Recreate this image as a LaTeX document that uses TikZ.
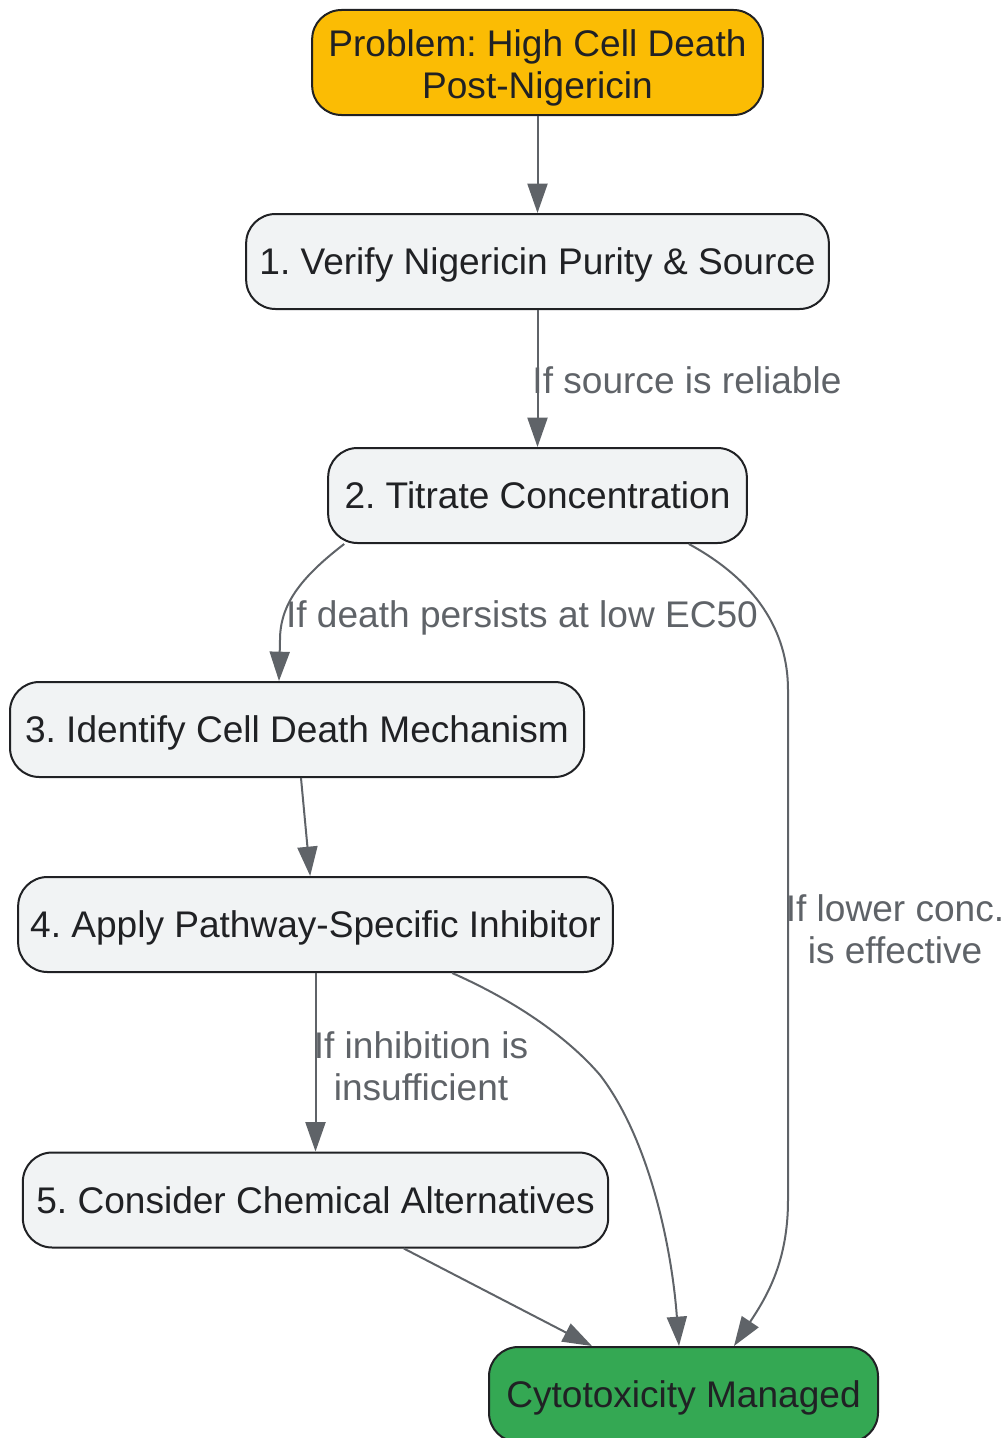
\documentclass[tikz,border=0pt]{standalone}
\usepackage{fontspec}
\setmainfont{Liberation Sans}
\usepackage{xcolor}
\usepackage{tikz}
\usetikzlibrary{calc, positioning, arrows.meta}
\frenchspacing

\definecolor{probfill}{HTML}{FBBC04}
\definecolor{stepfill}{HTML}{F1F3F4}
\definecolor{donefill}{HTML}{34A853}
\definecolor{edgegray}{HTML}{5F6368}
\definecolor{inkdark}{HTML}{202124}

\begin{document}
\begin{tikzpicture}[x=0.75pt,y=-0.75pt,
                    main node/.style={rectangle,rounded corners=22pt,draw=inkdark,line width=1.5pt,
                        text=inkdark,align=center,font=\fontsize{27.8}{31.5}\selectfont,
                        text height=22pt,text depth=2pt,minimum height=71.25pt,inner sep=0pt},
                    flow/.style={draw=edgegray,line width=1.5pt,-{Triangle[length=22pt,width=15pt]}},
                    edge label/.style={text=edgegray,align=center,text height=22pt,text depth=2pt,
                        font=\fontsize{27.8}{31.5}\selectfont},
                    two lines/.style={text height=54.5pt,text depth=0pt}]
\useasboundingbox (0,0) rectangle (1005,1438);

\node[main node,two lines,fill=probfill,minimum width=338pt,minimum height=78.75pt] (Problem) at (537.5,62.5) {Problem: High Cell Death\\Post-Nigericin};
\node[main node,fill=stepfill,minimum width=437pt] (Verify) at (537.5,261.5) {1. Verify Nigericin Purity \& Source};
\node[main node,fill=stepfill,minimum width=314pt] (Titrate) at (537.5,495.5) {2. Titrate Concentration};
\node[main node,fill=stepfill,minimum width=430.5pt] (Mechanism) at (297,729.5) {3. Identify Cell Death Mechanism};
\node[main node,fill=stepfill,minimum width=446pt] (Inhibitor) at (315.5,924.5) {4. Apply Pathway-Specific Inhibitor};
\node[main node,fill=stepfill,minimum width=439pt] (Alternatives) at (315.5,1200) {5. Consider Chemical Alternatives};
\node[main node,fill=donefill,minimum width=291.75pt] (Managed) at (683.5,1394.5) {Cytotoxicity Managed};

% connectors
\draw[flow] (Problem) -- (Verify);
\draw[flow] (Verify) -- (Titrate);
\draw[flow] ($(Titrate.south west)+(17,0)$) .. controls (300,578) and (280,605) .. (280,640) -- ($(Mechanism.north west)+(270,0)$);
\draw[flow] ($(Titrate.south east)+(-59,0)$) .. controls (755,580) and (788,630) .. (788,690) -- (788,1200) .. controls (788,1260) and (768,1295) .. ($(Managed.north west)+(246,0)$);
\draw[flow] ($(Mechanism.south west)+(292,0)$) -- ($(Inhibitor.north west)+(293,0)$);
\draw[flow] (Inhibitor) -- (Alternatives);
\draw[flow] ($(Inhibitor.south west)+(435,0)$) .. controls (520,1003) and (570,1040) .. (600,1075) .. controls (650,1140) and (672,1250) .. ($(Managed.north west)+(191,0)$);
\draw[flow] ($(Alternatives.south west)+(382,0)$) -- ($(Managed.north west)+(104,0)$);

% edge labels
\node[edge label] (LblReliable) at (687,380) {If source is reliable};
\node[edge label] (LblPersists) at (522,614) {If death persists at low EC50};
\node[edge label,two lines] (LblLower) at (895,927) {If lower conc.\\is effective};
\node[edge label,two lines] (LblInsuff) at (421,1064) {If inhibition is\\insufficient};

\end{tikzpicture}
\end{document}
